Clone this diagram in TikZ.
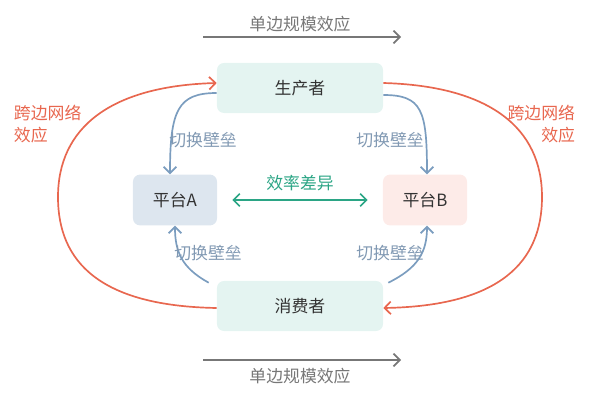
\documentclass[tikz,border=0pt]{standalone}
\usepackage{fontspec}
\setmainfont{Noto Sans CJK SC}
\usetikzlibrary{arrows.meta,calc}

\definecolor{roleFill}{HTML}{E4F4F1}
\definecolor{platAFill}{HTML}{DDE6EF}
\definecolor{platBFill}{HTML}{FDEBE8}
\definecolor{switchBlue}{HTML}{7B9DBF}
\definecolor{switchText}{HTML}{8199B3}
\definecolor{effGreen}{HTML}{2BA585}
\definecolor{crossRed}{HTML}{E8674F}
\definecolor{scaleGrey}{HTML}{777777}
\definecolor{darkText}{HTML}{333333}

\begin{document}
\begin{tikzpicture}[x=0.025cm,y=-0.025cm,
  font=\fontsize{12}{16}\selectfont,
  rolebox/.style={rounded corners=5pt,fill=roleFill,minimum width=4.15cm,minimum height=1.25cm,text=darkText},
  platbox/.style={rounded corners=5pt,minimum width=2.1cm,minimum height=1.27cm,text=darkText},
  chev/.style={-{Straight Barb[length=4.5pt,width=9pt]}},
  switch/.style={chev,draw=switchBlue,line width=1.2pt},
  cross/.style={chev,draw=crossRed,line width=1.2pt},
  scalearrow/.style={chev,draw=scaleGrey,line width=1.2pt}]
\useasboundingbox (0,0) rectangle (600,400);

% boxes
\node[rolebox] (prod) at (300,88) {生产者};
\node[rolebox] (cons) at (300,306) {消费者};
\node[platbox,fill=platAFill] (platA) at (175,200) {平台A};
\node[platbox,fill=platBFill] (platB) at (425,200) {平台B};

% switching barriers
\draw[switch] ($(prod.west)+(0,5)$) .. controls (178,93) and (170,110) .. (platA.north -| 170,0);
\draw[switch] ($(prod.east)+(0,7)$) .. controls (422,95) and (427,110) .. (platB.north -| 427,0);
\draw[switch] ($(cons.north west)+(-8,2)$) .. controls (182,268) and (175,252) .. (platA.south -| 175,0);
\draw[switch] ($(cons.north east)+(5,2)$) .. controls (418,268) and (427,252) .. (platB.south -| 427,0);
\node[text=switchText] (swAt) at (203,140) {切换壁垒};
\node[text=switchText] (swBt) at (390,140) {切换壁垒};
\node[text=switchText] (swAb) at (208,253) {切换壁垒};
\node[text=switchText] (swBb) at (390,253) {切换壁垒};

% efficiency gap
\draw[{Straight Barb[length=4.5pt,width=9pt]}-{Straight Barb[length=4.5pt,width=9pt]},draw=effGreen,line width=1.2pt]
  ($(platA.east)+(15,0)$) -- ($(platB.west)+(-15,0)$);
\node[text=effGreen] (gap) at (300,183) {效率差异};

% cross-side network effects
\draw[cross] ($(cons.west)+(0,2)$) .. controls (100,306) and (58,262) .. (58,197)
  .. controls (58,128) and (110,86) .. ($(prod.west)+(0,-5)$);
\draw[cross] ($(prod.east)+(0,-5)$) .. controls (490,86) and (542,128) .. (542,197)
  .. controls (542,262) and (500,306) .. ($(cons.east)+(0,2)$);
\node[text=crossRed,align=left,anchor=north west] (crossL) at (9,100) {跨边网络\\效应};
\node[text=crossRed,align=right,anchor=north east] (crossR) at (580,100) {跨边网络\\效应};

% one-side scale effects
\coordinate (topS) at (203,37);
\coordinate (topE) at (401,37);
\coordinate (botS) at (203,360);
\coordinate (botE) at (401,360);
\draw[scalearrow] (topS) -- (topE);
\draw[scalearrow] (botS) -- (botE);
\node[text=scaleGrey] (scaleT) at (300,24) {单边规模效应};
\node[text=scaleGrey] (scaleB) at (300,376) {单边规模效应};
\end{tikzpicture}
\end{document}
